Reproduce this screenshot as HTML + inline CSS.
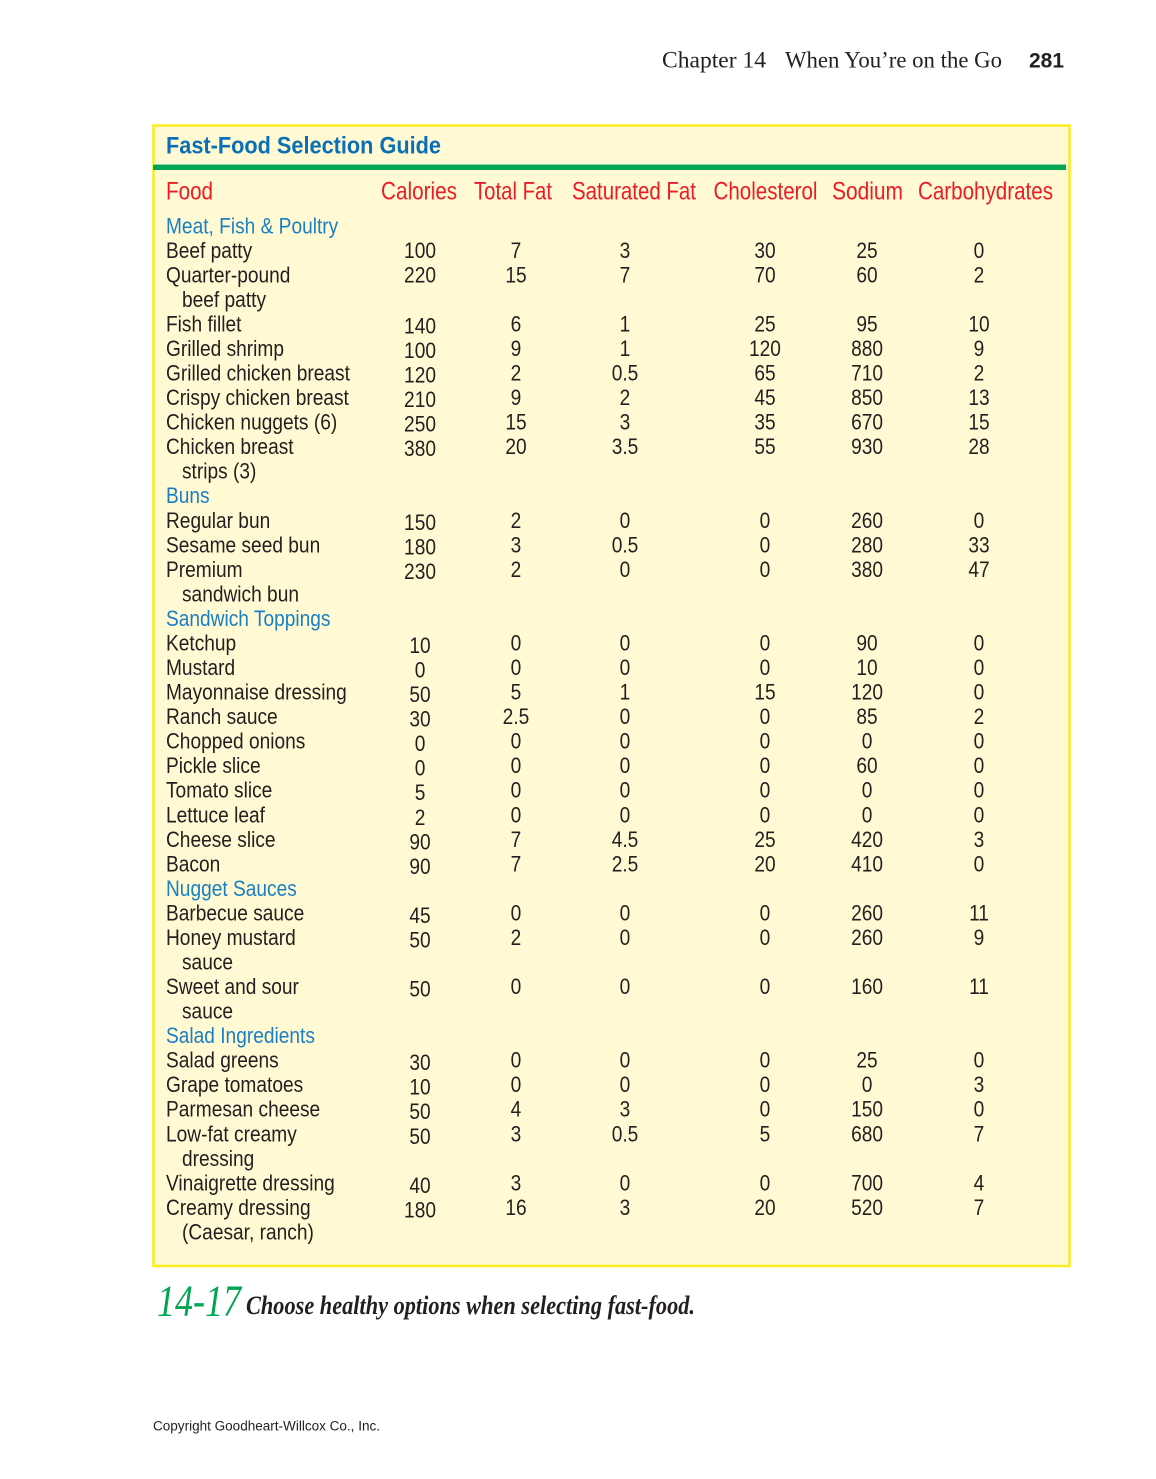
<!DOCTYPE html>
<html>
<head>
<meta charset="utf-8">
<style>
html,body{margin:0;padding:0;background:#fff;}
svg{display:block;}
.s{font-family:"Liberation Sans",Arial,sans-serif;}
.r{font-family:"Liberation Serif","Times New Roman",serif;}
.b{font-size:22px;fill:#231f20;}
.sec{font-size:22px;fill:#1b7fc4;}
.m{text-anchor:middle;}
.hd{font-size:25px;fill:#ec1c24;}
</style>
</head>
<body>
<svg width="1156" height="1479" viewBox="0 0 1156 1479" xmlns="http://www.w3.org/2000/svg">
<rect x="0" y="0" width="1156" height="1479" fill="#ffffff"/>

<!-- page header -->
<text class="r" x="662" y="67.3" font-size="23" fill="#231f20" textLength="104" lengthAdjust="spacingAndGlyphs">Chapter 14</text>
<text class="r" x="785" y="67.3" font-size="23" fill="#231f20" textLength="217" lengthAdjust="spacingAndGlyphs">When You’re on the Go</text>
<text class="s" x="1029" y="67.3" font-size="21" font-weight="bold" fill="#231f20" textLength="35" lengthAdjust="spacingAndGlyphs">281</text>

<!-- box -->
<rect x="153.5" y="125.5" width="916" height="1140.5" fill="#fffad4" stroke="#f9ed1e" stroke-width="2.5"/>
<rect x="153" y="165" width="913" height="5" fill="#00a651"/>
<rect x="153" y="164" width="913" height="1" fill="#8fd3a6"/>

<!-- title -->
<text class="s" x="166" y="153.3" font-size="24" font-weight="bold" fill="#0b6fb6" textLength="275" lengthAdjust="spacingAndGlyphs">Fast-Food Selection Guide</text>

<!-- column headers -->
<text class="s hd" x="166" y="199.3" textLength="47" lengthAdjust="spacingAndGlyphs">Food</text>
<text class="s hd" x="381" y="199.3" textLength="76" lengthAdjust="spacingAndGlyphs">Calories</text>
<text class="s hd" x="474" y="199.3" textLength="78" lengthAdjust="spacingAndGlyphs">Total Fat</text>
<text class="s hd" x="572" y="199.3" textLength="124" lengthAdjust="spacingAndGlyphs">Saturated Fat</text>
<text class="s hd" x="713.5" y="199.3" textLength="104" lengthAdjust="spacingAndGlyphs">Cholesterol</text>
<text class="s hd" x="832" y="199.3" textLength="71" lengthAdjust="spacingAndGlyphs">Sodium</text>
<text class="s hd" x="918" y="199.3" textLength="135" lengthAdjust="spacingAndGlyphs">Carbohydrates</text>

<g transform="scale(0.87 1)">
<!-- sections -->
<g class="s sec">
<text x="190.8" y="233.3">Meat, Fish &amp; Poultry</text>
<text x="190.8" y="503.2">Buns</text>
<text x="190.8" y="625.9">Sandwich Toppings</text>
<text x="190.8" y="895.9">Nugget Sauces</text>
<text x="190.8" y="1043.1">Salad Ingredients</text>
</g>
<!-- food labels -->
<g class="s b">
<text x="190.8" y="257.8">Beef patty</text>
<text x="190.8" y="282.4">Quarter-pound</text>
<text x="209.2" y="306.9">beef patty</text>
<text x="190.8" y="331.5">Fish fillet</text>
<text x="190.8" y="356.0">Grilled shrimp</text>
<text x="190.8" y="380.5">Grilled chicken breast</text>
<text x="190.8" y="405.1">Crispy chicken breast</text>
<text x="190.8" y="429.6">Chicken nuggets (6)</text>
<text x="190.8" y="454.2">Chicken breast</text>
<text x="209.2" y="478.7">strips (3)</text>
<text x="190.8" y="527.8">Regular bun</text>
<text x="190.8" y="552.3">Sesame seed bun</text>
<text x="190.8" y="576.9">Premium</text>
<text x="209.2" y="601.4">sandwich bun</text>
<text x="190.8" y="650.5">Ketchup</text>
<text x="190.8" y="675.0">Mustard</text>
<text x="190.8" y="699.6">Mayonnaise dressing</text>
<text x="190.8" y="724.1">Ranch sauce</text>
<text x="190.8" y="748.6">Chopped onions</text>
<text x="190.8" y="773.2">Pickle slice</text>
<text x="190.8" y="797.7">Tomato slice</text>
<text x="190.8" y="822.3">Lettuce leaf</text>
<text x="190.8" y="846.8">Cheese slice</text>
<text x="190.8" y="871.3">Bacon</text>
<text x="190.8" y="920.4">Barbecue sauce</text>
<text x="190.8" y="945.0">Honey mustard</text>
<text x="209.2" y="969.5">sauce</text>
<text x="190.8" y="994.0">Sweet and sour</text>
<text x="209.2" y="1018.6">sauce</text>
<text x="190.8" y="1067.7">Salad greens</text>
<text x="190.8" y="1092.2">Grape tomatoes</text>
<text x="190.8" y="1116.7">Parmesan cheese</text>
<text x="190.8" y="1141.3">Low-fat creamy</text>
<text x="209.2" y="1165.8">dressing</text>
<text x="190.8" y="1190.4">Vinaigrette dressing</text>
<text x="190.8" y="1214.9">Creamy dressing</text>
<text x="209.2" y="1239.4">(Caesar, ranch)</text>
</g>

<!-- Calories -->
<g class="s b m">
<text x="482.8" y="257.8">100</text>
<text x="482.8" y="282.4">220</text>
<text x="482.8" y="333.5">140</text>
<text x="482.8" y="358.0">100</text>
<text x="482.8" y="382.5">120</text>
<text x="482.8" y="407.1">210</text>
<text x="482.8" y="431.6">250</text>
<text x="482.8" y="456.2">380</text>
<text x="482.8" y="529.8">150</text>
<text x="482.8" y="554.3">180</text>
<text x="482.8" y="578.9">230</text>
<text x="482.8" y="653.0">10</text>
<text x="482.8" y="677.5">0</text>
<text x="482.8" y="702.1">50</text>
<text x="482.8" y="726.6">30</text>
<text x="482.8" y="751.1">0</text>
<text x="482.8" y="775.7">0</text>
<text x="482.8" y="800.2">5</text>
<text x="482.8" y="824.8">2</text>
<text x="482.8" y="849.3">90</text>
<text x="482.8" y="873.8">90</text>
<text x="482.8" y="922.9">45</text>
<text x="482.8" y="947.5">50</text>
<text x="482.8" y="996.5">50</text>
<text x="482.8" y="1070.2">30</text>
<text x="482.8" y="1094.7">10</text>
<text x="482.8" y="1119.2">50</text>
<text x="482.8" y="1143.8">50</text>
<text x="482.8" y="1192.9">40</text>
<text x="482.8" y="1217.4">180</text>
</g>

<!-- Total Fat -->
<g class="s b m">
<text x="593.1" y="257.8">7</text>
<text x="593.1" y="282.4">15</text>
<text x="593.1" y="331.5">6</text>
<text x="593.1" y="356.0">9</text>
<text x="593.1" y="380.5">2</text>
<text x="593.1" y="405.1">9</text>
<text x="593.1" y="429.6">15</text>
<text x="593.1" y="454.2">20</text>
<text x="593.1" y="527.8">2</text>
<text x="593.1" y="552.3">3</text>
<text x="593.1" y="576.9">2</text>
<text x="593.1" y="650.5">0</text>
<text x="593.1" y="675.0">0</text>
<text x="593.1" y="699.6">5</text>
<text x="593.1" y="724.1">2.5</text>
<text x="593.1" y="748.6">0</text>
<text x="593.1" y="773.2">0</text>
<text x="593.1" y="797.7">0</text>
<text x="593.1" y="822.3">0</text>
<text x="593.1" y="846.8">7</text>
<text x="593.1" y="871.3">7</text>
<text x="593.1" y="920.4">0</text>
<text x="593.1" y="945.0">2</text>
<text x="593.1" y="994.0">0</text>
<text x="593.1" y="1067.7">0</text>
<text x="593.1" y="1092.2">0</text>
<text x="593.1" y="1116.7">4</text>
<text x="593.1" y="1141.3">3</text>
<text x="593.1" y="1190.4">3</text>
<text x="593.1" y="1214.9">16</text>
</g>

<!-- Saturated Fat -->
<g class="s b m">
<text x="718.4" y="257.8">3</text>
<text x="718.4" y="282.4">7</text>
<text x="718.4" y="331.5">1</text>
<text x="718.4" y="356.0">1</text>
<text x="718.4" y="380.5">0.5</text>
<text x="718.4" y="405.1">2</text>
<text x="718.4" y="429.6">3</text>
<text x="718.4" y="454.2">3.5</text>
<text x="718.4" y="527.8">0</text>
<text x="718.4" y="552.3">0.5</text>
<text x="718.4" y="576.9">0</text>
<text x="718.4" y="650.5">0</text>
<text x="718.4" y="675.0">0</text>
<text x="718.4" y="699.6">1</text>
<text x="718.4" y="724.1">0</text>
<text x="718.4" y="748.6">0</text>
<text x="718.4" y="773.2">0</text>
<text x="718.4" y="797.7">0</text>
<text x="718.4" y="822.3">0</text>
<text x="718.4" y="846.8">4.5</text>
<text x="718.4" y="871.3">2.5</text>
<text x="718.4" y="920.4">0</text>
<text x="718.4" y="945.0">0</text>
<text x="718.4" y="994.0">0</text>
<text x="718.4" y="1067.7">0</text>
<text x="718.4" y="1092.2">0</text>
<text x="718.4" y="1116.7">3</text>
<text x="718.4" y="1141.3">0.5</text>
<text x="718.4" y="1190.4">0</text>
<text x="718.4" y="1214.9">3</text>
</g>

<!-- Cholesterol -->
<g class="s b m">
<text x="879.3" y="257.8">30</text>
<text x="879.3" y="282.4">70</text>
<text x="879.3" y="331.5">25</text>
<text x="879.3" y="356.0">120</text>
<text x="879.3" y="380.5">65</text>
<text x="879.3" y="405.1">45</text>
<text x="879.3" y="429.6">35</text>
<text x="879.3" y="454.2">55</text>
<text x="879.3" y="527.8">0</text>
<text x="879.3" y="552.3">0</text>
<text x="879.3" y="576.9">0</text>
<text x="879.3" y="650.5">0</text>
<text x="879.3" y="675.0">0</text>
<text x="879.3" y="699.6">15</text>
<text x="879.3" y="724.1">0</text>
<text x="879.3" y="748.6">0</text>
<text x="879.3" y="773.2">0</text>
<text x="879.3" y="797.7">0</text>
<text x="879.3" y="822.3">0</text>
<text x="879.3" y="846.8">25</text>
<text x="879.3" y="871.3">20</text>
<text x="879.3" y="920.4">0</text>
<text x="879.3" y="945.0">0</text>
<text x="879.3" y="994.0">0</text>
<text x="879.3" y="1067.7">0</text>
<text x="879.3" y="1092.2">0</text>
<text x="879.3" y="1116.7">0</text>
<text x="879.3" y="1141.3">5</text>
<text x="879.3" y="1190.4">0</text>
<text x="879.3" y="1214.9">20</text>
</g>

<!-- Sodium -->
<g class="s b m">
<text x="996.6" y="257.8">25</text>
<text x="996.6" y="282.4">60</text>
<text x="996.6" y="331.5">95</text>
<text x="996.6" y="356.0">880</text>
<text x="996.6" y="380.5">710</text>
<text x="996.6" y="405.1">850</text>
<text x="996.6" y="429.6">670</text>
<text x="996.6" y="454.2">930</text>
<text x="996.6" y="527.8">260</text>
<text x="996.6" y="552.3">280</text>
<text x="996.6" y="576.9">380</text>
<text x="996.6" y="650.5">90</text>
<text x="996.6" y="675.0">10</text>
<text x="996.6" y="699.6">120</text>
<text x="996.6" y="724.1">85</text>
<text x="996.6" y="748.6">0</text>
<text x="996.6" y="773.2">60</text>
<text x="996.6" y="797.7">0</text>
<text x="996.6" y="822.3">0</text>
<text x="996.6" y="846.8">420</text>
<text x="996.6" y="871.3">410</text>
<text x="996.6" y="920.4">260</text>
<text x="996.6" y="945.0">260</text>
<text x="996.6" y="994.0">160</text>
<text x="996.6" y="1067.7">25</text>
<text x="996.6" y="1092.2">0</text>
<text x="996.6" y="1116.7">150</text>
<text x="996.6" y="1141.3">680</text>
<text x="996.6" y="1190.4">700</text>
<text x="996.6" y="1214.9">520</text>
</g>

<!-- Carbohydrates -->
<g class="s b m">
<text x="1125.3" y="257.8">0</text>
<text x="1125.3" y="282.4">2</text>
<text x="1125.3" y="331.5">10</text>
<text x="1125.3" y="356.0">9</text>
<text x="1125.3" y="380.5">2</text>
<text x="1125.3" y="405.1">13</text>
<text x="1125.3" y="429.6">15</text>
<text x="1125.3" y="454.2">28</text>
<text x="1125.3" y="527.8">0</text>
<text x="1125.3" y="552.3">33</text>
<text x="1125.3" y="576.9">47</text>
<text x="1125.3" y="650.5">0</text>
<text x="1125.3" y="675.0">0</text>
<text x="1125.3" y="699.6">0</text>
<text x="1125.3" y="724.1">2</text>
<text x="1125.3" y="748.6">0</text>
<text x="1125.3" y="773.2">0</text>
<text x="1125.3" y="797.7">0</text>
<text x="1125.3" y="822.3">0</text>
<text x="1125.3" y="846.8">3</text>
<text x="1125.3" y="871.3">0</text>
<text x="1125.3" y="920.4">11</text>
<text x="1125.3" y="945.0">9</text>
<text x="1125.3" y="994.0">11</text>
<text x="1125.3" y="1067.7">0</text>
<text x="1125.3" y="1092.2">3</text>
<text x="1125.3" y="1116.7">0</text>
<text x="1125.3" y="1141.3">7</text>
<text x="1125.3" y="1190.4">4</text>
<text x="1125.3" y="1214.9">7</text>
</g>
</g>

<!-- caption -->
<text class="r" x="157" y="1315.7" font-size="44" font-style="italic" fill="#00a651" textLength="84" lengthAdjust="spacingAndGlyphs">14-17</text>
<text class="r" x="246" y="1314" font-size="26" font-style="italic" font-weight="bold" fill="#231f20" textLength="449" lengthAdjust="spacingAndGlyphs">Choose healthy options when selecting fast-food.</text>

<!-- copyright -->
<text class="s" x="153" y="1430.5" font-size="13.5" fill="#231f20" textLength="227" lengthAdjust="spacingAndGlyphs">Copyright Goodheart-Willcox Co., Inc.</text>
</svg>
</body>
</html>
